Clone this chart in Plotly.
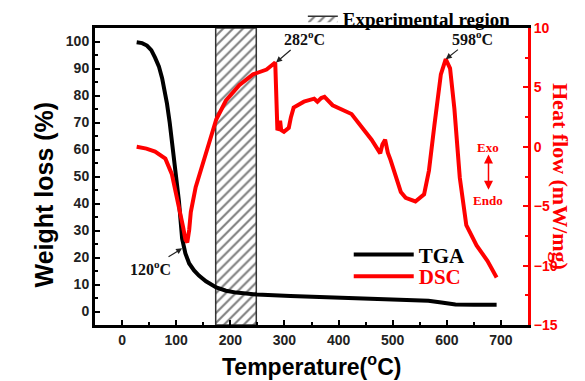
import plotly.graph_objects as go

# ---------------- data ----------------
tga_T = [27, 37, 46, 54, 61, 68, 74, 79, 83, 88, 92, 96, 100, 105, 111, 117, 124, 133, 142,
         155, 174, 192, 211, 249, 311, 400, 485, 566, 590, 616, 650, 692]
tga_W = [99.7, 99.4, 98.5, 96.8, 94.0, 90.8, 86.4, 82.0, 77.0, 70.0, 63.0, 57.0, 50.0, 41.0,
         27.0, 21.5, 17.8, 15.2, 13.3, 11.2, 8.9, 7.7, 7.0, 6.3, 5.7, 5.0, 4.4, 4.0, 3.3, 2.6, 2.5, 2.5]

dsc_T = [27, 45, 61, 80, 92, 105, 113, 117, 120.5, 124, 127, 136, 149, 158, 174, 192, 217, 242,
         267, 275, 283, 287, 290, 292, 294, 299, 308, 312, 317, 336, 355, 361, 368, 374, 382, 389,
         424, 442, 461, 477, 481, 486, 491, 496, 505, 515, 524, 542, 558, 567, 577, 589, 598, 606,
         614, 624, 636, 655, 675, 692]
dsc_H = [0.0, -0.15, -0.4, -1.0, -2.3, -4.9, -6.8, -7.8, -8.05, -7.0, -5.5, -3.4, -1.4, 0.0, 2.3,
         3.9, 5.2, 6.1, 6.5, 6.8, 7.1, 1.4, 1.6, 2.2, 1.4, 1.26, 1.6, 2.5, 3.3, 3.8, 4.05, 3.8, 4.1,
         4.2, 3.8, 3.5, 2.76, 1.76, 0.6, -0.55, 0.2, 0.6, -0.5, -1.1, -2.3, -3.8, -4.3, -4.6, -4.0,
         -2.0, 1.8, 6.1, 7.38, 6.6, 3.2, -2.6, -6.6, -8.3, -9.6, -11.0]

region_T = [173, 248]           # experimental region (°C)
x_range = [-50, 750]
w_range = [-5, 105]
h_range = [-15, 10]
x_ticks = [0, 100, 200, 300, 400, 500, 600, 700]
w_ticks = [0, 10, 20, 30, 40, 50, 60, 70, 80, 90, 100]
h_ticks = [-15, -10, -5, 0, 5, 10]

peak_tga = (111, 23.4, "120<sup>o</sup>C")
peak_dsc1 = (284.5, 7.1, "282<sup>o</sup>C")
peak_dsc2 = (598, 7.38, "598<sup>o</sup>C")

RED = "#ff0000"
SERIF = "Liberation Serif"
SANS = "Liberation Sans"

fig = go.Figure()

# hatched experimental region
fig.add_trace(go.Scatter(
    x=[region_T[0], region_T[1], region_T[1], region_T[0], region_T[0]],
    y=[w_range[0], w_range[0], w_range[1], w_range[1], w_range[0]],
    mode="lines", fill="toself", fillcolor="white",
    fillpattern=dict(shape="/", fgcolor="black", bgcolor="white", size=7, solidity=0.3),
    line=dict(color="#333", width=1.5),
    name="Experimental region", legend="legend2", hoverinfo="skip"))

fig.add_trace(go.Scatter(x=tga_T, y=tga_W, mode="lines", name="TGA",
                         line=dict(color="black", width=4), legend="legend"))
fig.add_trace(go.Scatter(x=dsc_T, y=dsc_H, mode="lines", name="DSC",
                         line=dict(color=RED, width=4), yaxis="y2", legend="legend3"))

tickfont = dict(family=SANS, size=14, color="#222", weight="bold")
legfont = dict(family=SERIF, size=21, weight="bold")

# page body has an 8px margin: shrink figure so the plot area sits where the reference has it
fig.update_layout(
    width=577, height=373,
    margin=dict(l=87, r=57, t=20, b=56, autoexpand=False),
    plot_bgcolor="white", paper_bgcolor="white",
    showlegend=True,
    xaxis=dict(range=x_range, tickvals=x_ticks, ticks="inside", ticklen=5, tickwidth=2,
               tickcolor="black", showline=True, linecolor="black", linewidth=3, mirror=True,
               showgrid=False, zeroline=False, tickfont=tickfont, automargin=False,
               minor=dict(dtick=50, ticks="inside", ticklen=3, tickwidth=2, tickcolor="black")),
    yaxis=dict(range=w_range, tickvals=w_ticks, ticks="inside", ticklen=5, tickwidth=2,
               tickcolor="black", showline=True, linecolor="black", linewidth=3,
               showgrid=False, zeroline=False, tickfont=tickfont, automargin=False,
               minor=dict(dtick=5, tick0=0, ticks="inside", ticklen=3, tickwidth=2, tickcolor="black")),
    yaxis2=dict(range=h_range, tickvals=h_ticks, overlaying="y", side="right",
                ticks="inside", ticklen=5, tickwidth=2, tickcolor=RED, automargin=False,
                showline=True, linecolor=RED, linewidth=3, showgrid=False, zeroline=False,
                tickfont=dict(family=SANS, size=14, color=RED, weight="bold"),
                minor=dict(dtick=2.5, tick0=0, ticks="inside", ticklen=3, tickwidth=2, tickcolor=RED)),
    legend=dict(x=0.586, y=0.305, xanchor="left", yanchor="top", bgcolor="rgba(0,0,0,0)",
                font=dict(legfont, color="black"), itemwidth=60),
    legend3=dict(x=0.586, y=0.232, xanchor="left", yanchor="top", bgcolor="rgba(0,0,0,0)",
                 font=dict(legfont, color=RED), itemwidth=60),
    legend2=dict(x=0.48, y=1.096, xanchor="left", yanchor="top", bgcolor="rgba(0,0,0,0)",
                 font=dict(family=SERIF, size=19, color="black", weight="bold"),
                 itemwidth=30),
)

# axis titles
fig.add_annotation(x=0.5, y=0, xref="paper", yref="paper", yshift=-57,
                   text="Temperature(<sup>o</sup>C)", showarrow=False,
                   font=dict(family=SANS, size=23, color="black", weight="bold"))
fig.add_annotation(x=0, y=0.5, xref="paper", yref="paper", xshift=-68, yshift=-18,
                   text="Weight loss (%)", textangle=-90, showarrow=False,
                   font=dict(family=SANS, size=25, color="black", weight="bold"))
fig.add_annotation(x=1.0, y=0.5, xref="paper", yref="paper", xshift=47,
                   text="Heat flow (mW/mg)", textangle=90, showarrow=False,
                   font=dict(family=SERIF, size=22, color=RED, weight="bold"))

ann_font = dict(family=SERIF, size=16, color="#111", weight="bold")
for (px, py, txt), ax, ay, yref in [(peak_tga, -32, 20, "y"),
                                    (peak_dsc1, 28, -24, "y2"),
                                    (peak_dsc2, 27, -21, "y2")]:
    fig.add_annotation(x=px, y=py, xref="x", yref=yref, text=txt, showarrow=True,
                       ax=ax, ay=ay, arrowhead=2, arrowsize=1, arrowwidth=1.2,
                       arrowcolor="#222", font=ann_font)

# Exo / Endo indicator
exo_x = 677
fig.add_annotation(x=exo_x, y=-0.1, xref="x", yref="y2", text="Exo", showarrow=False,
                   font=dict(family=SERIF, size=13, color=RED, weight="bold"))
fig.add_annotation(x=exo_x, y=-4.5, xref="x", yref="y2", text="Endo", showarrow=False,
                   font=dict(family=SERIF, size=13, color=RED, weight="bold"))
fig.add_annotation(x=exo_x, y=-0.65, ax=exo_x, ay=-3.75, xref="x", yref="y2",
                   axref="x", ayref="y2", text="", showarrow=True, arrowhead=2,
                   startarrowhead=2, arrowside="end+start", arrowsize=1.2, arrowwidth=1.5,
                   arrowcolor=RED)

fig.write_html("out.html")
